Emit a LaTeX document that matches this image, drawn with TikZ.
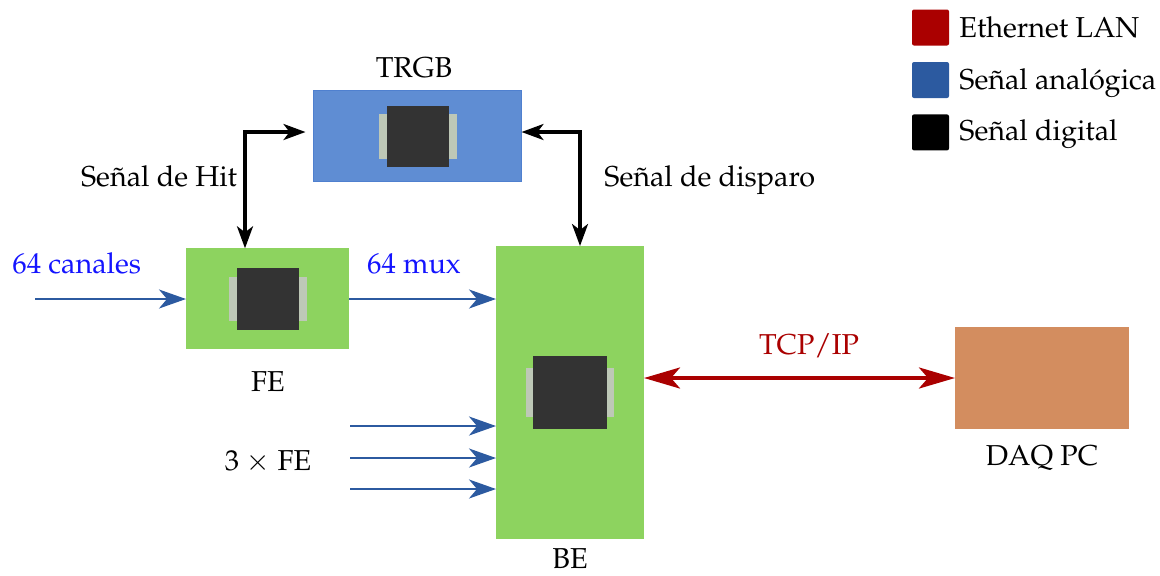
\documentclass[tikz,border=0pt]{standalone}
\usepackage[T1]{fontenc}
\usepackage{mathpazo}
\usetikzlibrary{arrows.meta}
\definecolor{bgreen}{HTML}{8DD35F}
\definecolor{bblue}{HTML}{5F8DD3}
\definecolor{bblueline}{HTML}{4F80CF}
\definecolor{borange}{HTML}{D38D5F}
\definecolor{ablue}{HTML}{2C5AA0}
\definecolor{ered}{HTML}{AA0000}
\definecolor{chipc}{HTML}{333333}
\definecolor{padc}{HTML}{BEC8B7}
\definecolor{tblue}{HTML}{1414FF}
\tikzset{
  box/.style={inner sep=0pt, outer sep=0pt},
  greenbox/.style={box, fill=bgreen},
  padbox/.style={box, fill=padc},
  chipbox/.style={box, fill=chipc},
  lbl/.style={inner sep=0pt, font=\fontsize{14.4}{17}\selectfont},
  aarrow/.style={draw=ablue, line width=1.1pt, -{Stealth[length=13.5pt, width=9.5pt, inset=4pt]}},
  darrow/.style={draw=black, line width=1.6pt, {Stealth[length=11pt, width=8pt, inset=3pt]}-{Stealth[length=11pt, width=8pt, inset=3pt]}},
  rarrow/.style={draw=ered, line width=2pt, {Stealth[length=18pt, width=10.5pt, inset=4.5pt]}-{Stealth[length=18pt, width=10.5pt, inset=4.5pt]}},
  legbox/.style={box, minimum width=18.5pt, minimum height=18pt, rounded corners=1pt},
}
\begin{document}
\begin{tikzpicture}[x=0.5pt, y=-0.5pt]
\useasboundingbox (0,0) rectangle (1160,575);

% TRGB
\node[box, fill=bblue, draw=bblueline, line width=0.4pt, minimum width=104pt, minimum height=45.5pt] (trgb) at (417.5,136) {};
\node[padbox, minimum width=39pt, minimum height=22.3pt] (trgbpad) at (418,136.5) {};
\node[chipbox, minimum width=31pt, minimum height=30.8pt] (trgbchip) at (418,136.5) {};
\node[lbl, anchor=base] (trgblbl) at (414,77) {TRGB};

% FE
\node[greenbox, minimum width=81.5pt, minimum height=50.5pt] (fe) at (267.5,298.8) {};
\node[padbox, minimum width=38.7pt, minimum height=22pt] (fepad) at (268,299) {};
\node[chipbox, minimum width=30.7pt, minimum height=30.85pt] (fechip) at (268,298.8) {};
\node[lbl, anchor=base] (felbl) at (268,391) {FE};

% BE
\node[greenbox, minimum width=74pt, minimum height=146.5pt] (be) at (570,392.5) {};
\node[padbox, minimum width=43.85pt, minimum height=24.65pt] (bepad) at (570,392.7) {};
\node[chipbox, minimum width=36.85pt, minimum height=36.65pt] (bechip) at (570,392.7) {};
\node[lbl, anchor=base] (belbl) at (570,568.5) {BE};

% DAQ PC
\node[box, fill=borange, minimum width=87pt, minimum height=51pt] (daq) at (1042,378) {};
\node[lbl, anchor=base] (daqlbl) at (1042,465) {DAQ PC};

% analog inputs
\coordinate (in0) at (35,299);
\draw[aarrow] (in0) -- (in0 -| fe.west);
\node[lbl, anchor=base west, text=tblue] (canales) at (12,273) {64 canales};

\draw[aarrow] (fe.east |- in0) -- (in0 -| be.west);
\node[lbl, anchor=base, text=tblue] (mux) at (414,273) {64 mux};

\coordinate (in1) at (350,426);
\coordinate (in2) at (350,458);
\coordinate (in3) at (350,489);
\draw[aarrow] (in1) -- (in1 -| be.west);
\draw[aarrow] (in2) -- (in2 -| be.west);
\draw[aarrow] (in3) -- (in3 -| be.west);
\node[lbl, anchor=base] (threefe) at (268,470) {3 $\times$ FE};

% digital signals
\coordinate (hitx) at (245,132);
\draw[darrow, shorten >=4pt] (hitx |- fe.north) -- (hitx) -- (trgb.west |- hitx);
\node[lbl, anchor=base east] (hitlbl) at (237.5,186) {Se\~nal de Hit};

\coordinate (disx) at (580,132);
\draw[darrow] (disx |- be.north) -- (disx) -- (trgb.east |- disx);
\node[lbl, anchor=base west] (dislbl) at (604,186) {Se\~nal de disparo};

% Ethernet
\draw[rarrow] (daq.west -| be.east) -- (daq.west);
\node[lbl, anchor=base, text=ered] (tcplbl) at (809,354) {TCP/IP};

% legend
\node[legbox, fill=ered] (leg1) at (930.5,27.5) {};
\node[legbox, fill=ablue] (leg2) at (930.5,80) {};
\node[legbox, fill=black] (leg3) at (930.5,132.4) {};
\node[lbl, anchor=base west] (leg1t) at (959,37) {Ethernet LAN};
\node[lbl, anchor=base west] (leg2t) at (959,89) {Se\~nal anal\'ogica};
\node[lbl, anchor=base west] (leg3t) at (959,140) {Se\~nal digital};
\end{tikzpicture}
\end{document}
